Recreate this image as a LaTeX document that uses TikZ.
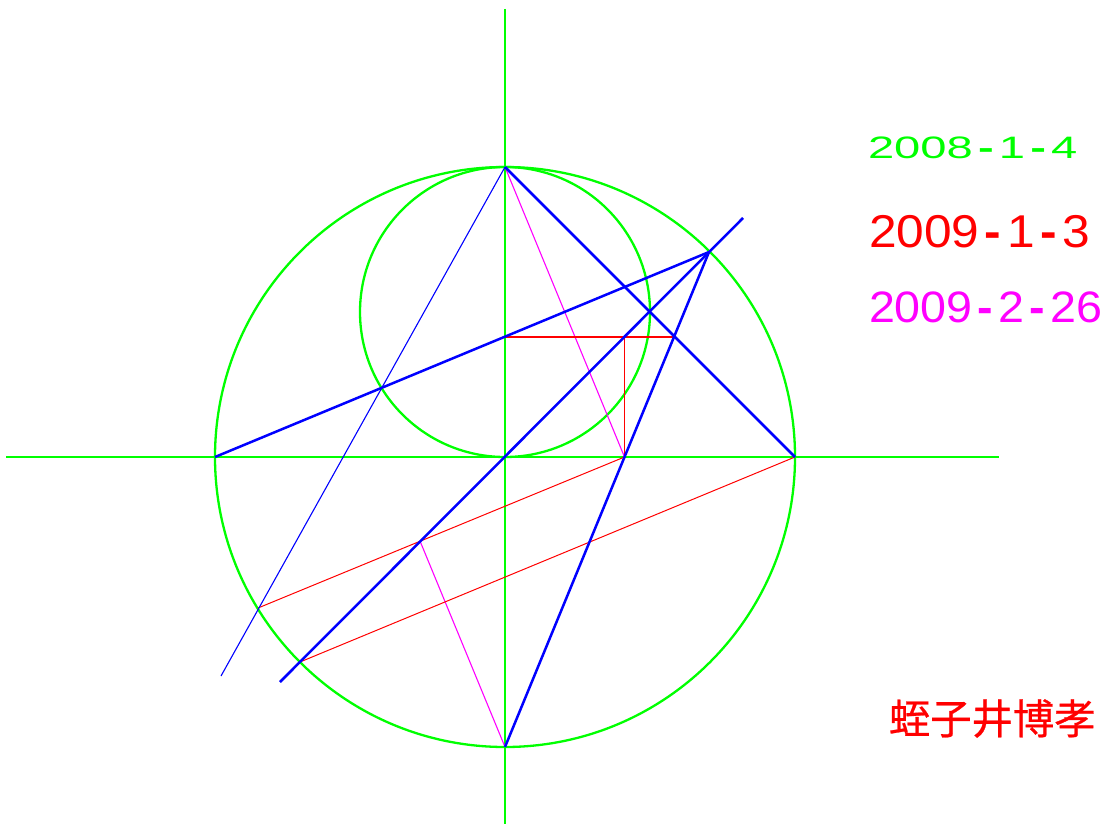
\documentclass[tikz,border=0pt]{standalone}
\usepackage{fontspec}
\setmainfont{Liberation Sans}
\newfontfamily\cjkfont[FakeBold=0.6]{Noto Sans CJK JP}
\newcommand{\datedash}{\kern.11em{\bfseries-}\kern.11em}
\definecolor{puregreen}{RGB}{0,255,0}
\definecolor{purered}{RGB}{255,0,0}
\definecolor{pureblue}{RGB}{0,0,255}
\definecolor{puremagenta}{RGB}{255,0,255}
\tikzset{
    heavygreen/.style={draw=puregreen, line width=2.3pt},
    heavyblue/.style={draw=pureblue, line width=2.5pt},
    heavyred/.style={draw=purered, line width=2pt},
    finered/.style={draw=purered, line width=1pt},
    fineblue/.style={draw=pureblue, line width=1.1pt},
    finemagenta/.style={draw=puremagenta, line width=1.1pt},
    datelabel/.style={anchor=base west, inner sep=0pt, outer sep=0pt}
}

\begin{document}
\begin{tikzpicture}[x=1pt, y=-1pt]
                \useasboundingbox (0,0) rectangle (1108,824);
                \coordinate (o) at (505,457);
                \coordinate (c) at (505,312);
                \coordinate (top) at (505,167);
                \coordinate (bottom) at (505,747);
                \coordinate (left) at (215,457);
                \coordinate (right) at (795,457);
                \coordinate (axisn) at (505,9);
                \coordinate (axiss) at (505,824);
                \coordinate (axisw) at (6,457);
                \coordinate (axise) at (999,457);
                \coordinate (p) at (709,252);
                \coordinate (diagne) at (743,218);
                \coordinate (diagsw) at (280,682);
                \coordinate (thinend) at (221,676);
                \coordinate (h) at (505,337);
                \coordinate (k) at (624.5,337);
                \coordinate (m) at (674,337);
                \coordinate (f) at (624.5,457);
                \coordinate (g) at (258,608);
                \coordinate (q) at (300,662);
                \coordinate (n) at (420,541);

                \draw[heavygreen] (axisn) -- (axiss);
                \draw[heavygreen] (axisw) -- (axise);
                \draw[heavygreen] (o) circle (290);
                \draw[heavygreen] (c) circle (145);

                \draw[finemagenta] (top) -- (f);
                \draw[finemagenta] (n) -- (bottom);
                \draw[heavyred] (h) -- (m);
                \draw[finered] (k) -- (f);
                \draw[finered] (f) -- (g);
                \draw[finered] (right) -- (q);

                \draw[fineblue] (top) -- (thinend);
                \draw[heavyblue] (left) -- (p);
                \draw[heavyblue] (p) -- (bottom);
                \draw[heavyblue] (top) -- (right);
                \draw[heavyblue] (diagne) -- (diagsw);

                \node[datelabel, text=puregreen, font=\fontsize{31}{31}\selectfont, xscale=1.52] (date1) at (868,158) {2008\datedash 1\datedash 4};
                \node[datelabel, text=purered, font=\fontsize{46}{46}\selectfont, xscale=1.08] (date2) at (869,247) {2009\datedash 1\datedash 3};
                \node[datelabel, text=puremagenta, font=\fontsize{44}{44}\selectfont, xscale=1.06] (date3) at (869,322) {2009\datedash 2\datedash 26};
                \node[datelabel, text=purered, font=\cjkfont\fontsize{41.3}{41.3}\selectfont] (author) at (889,734) {蛭子井博孝};
            \end{tikzpicture}
\end{document}
